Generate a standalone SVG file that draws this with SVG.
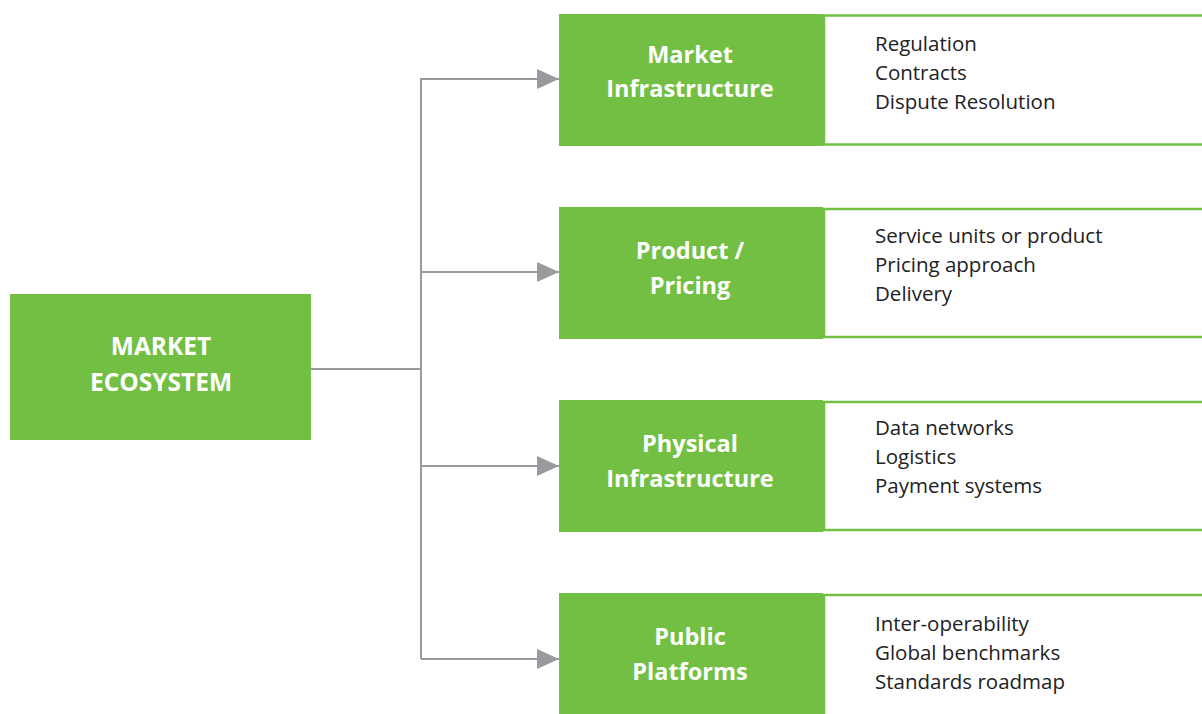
<svg xmlns="http://www.w3.org/2000/svg" width="1202" height="714" viewBox="0 0 1202 714">
<style>
.g{fill:#72BF44}
.w{fill:#fff;stroke:#72BF44;stroke-width:2.5}
.t{font-family:"Open Sans","Liberation Sans",sans-serif;font-weight:700;font-size:23.5px;fill:#fff;text-anchor:middle}
.big{font-size:24.5px}
.d{font-family:"Open Sans","Liberation Sans",sans-serif;font-size:20.5px;fill:#222}
.c{fill:none;stroke:#9a9a9e;stroke-width:2}
</style>
<defs>
<marker id="a" markerUnits="userSpaceOnUse" markerWidth="24" markerHeight="20" refX="22" refY="10" orient="auto">
<path d="M0,0L22,10L0,20Z" fill="#9a9a9e"/>
</marker>
</defs>
<rect width="1202" height="714" fill="#fff"/>
<g id="connectors">
<path class="c" d="M311,369H421"/>
<path class="c" d="M421,659V79H559" marker-end="url(#a)"/>
<path class="c" d="M421,272H559" marker-end="url(#a)"/>
<path class="c" d="M421,466H559" marker-end="url(#a)"/>
<path class="c" d="M421,659H559" marker-end="url(#a)"/>
</g>
<g id="market-ecosystem">
<rect class="g" x="10" y="294" width="301" height="146"/>
<text class="t big" x="161" y="355">MARKET</text>
<text class="t big" x="161" y="391">ECOSYSTEM</text>
</g>
<g id="market-infrastructure">
<rect class="w" x="824" y="15.5" width="390" height="129"/>
<rect class="g" x="559" y="14" width="264" height="132"/>
<text class="t" x="690" y="63">Market</text>
<text class="t" x="690" y="97">Infrastructure</text>
<text class="d" x="875" y="51">Regulation</text>
<text class="d" x="875" y="80">Contracts</text>
<text class="d" x="875" y="109">Dispute Resolution</text>
</g>
<g id="product-pricing">
<rect class="w" x="824" y="209" width="390" height="128"/>
<rect class="g" x="559" y="207" width="264" height="132"/>
<text class="t" x="690" y="259">Product /</text>
<text class="t" x="690" y="294">Pricing</text>
<text class="d" x="875" y="243">Service units or product</text>
<text class="d" x="875" y="272">Pricing approach</text>
<text class="d" x="875" y="301">Delivery</text>
</g>
<g id="physical-infrastructure">
<rect class="w" x="824" y="402" width="390" height="128"/>
<rect class="g" x="559" y="400" width="264" height="132"/>
<text class="t" x="690" y="452">Physical</text>
<text class="t" x="690" y="487">Infrastructure</text>
<text class="d" x="875" y="435">Data networks</text>
<text class="d" x="875" y="464">Logistics</text>
<text class="d" x="875" y="493">Payment systems</text>
</g>
<g id="public-platforms">
<rect class="w" x="824" y="595" width="390" height="128"/>
<rect class="g" x="559" y="593" width="264" height="125"/>
<text class="t" x="690" y="645">Public</text>
<text class="t" x="690" y="680">Platforms</text>
<text class="d" x="875" y="631">Inter-operability</text>
<text class="d" x="875" y="660">Global benchmarks</text>
<text class="d" x="875" y="689">Standards roadmap</text>
</g>
</svg>
